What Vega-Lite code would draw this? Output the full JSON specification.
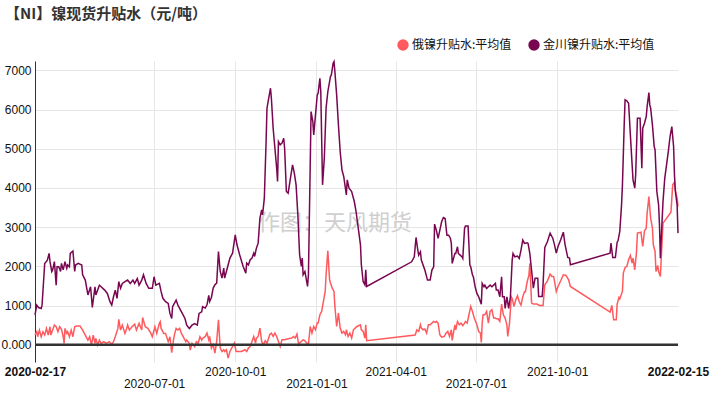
{
  "$schema": "https://vega.github.io/schema/vega-lite/v6.json",
  "width": 643,
  "height": 301,
  "autosize": {"type": "none"},
  "padding": {"left": 35, "top": 61, "right": 38, "bottom": 33},
  "background": "white",
  "config": {"view": {"stroke": null}, "font": "Liberation Sans"},
  "title": {"text": "【NI】镍现货升贴水（元/吨）", "anchor": "start", "frame": "group", "dx": -30, "offset": 2, "baseline": "bottom", "font": "Noto Sans CJK SC", "fontSize": 15, "fontWeight": "bold", "color": "#333333"},
  "datasets": {
    "ru": [
      {"date":"2020-02-17","value":250},{"date":"2020-02-19","value":332},{"date":"2020-02-20","value":205},{"date":"2020-02-22","value":375},{"date":"2020-02-24","value":205},{"date":"2020-02-26","value":332},{"date":"2020-02-28","value":247},{"date":"2020-03-01","value":417},{"date":"2020-03-03","value":247},{"date":"2020-03-05","value":460},{"date":"2020-03-06","value":247},{"date":"2020-03-08","value":375},{"date":"2020-03-10","value":502},{"date":"2020-03-12","value":460},{"date":"2020-03-14","value":332},{"date":"2020-03-16","value":460},{"date":"2020-03-18","value":392},{"date":"2020-03-20","value":205},{"date":"2020-03-21","value":35},{"date":"2020-03-22","value":417},{"date":"2020-03-24","value":290},{"date":"2020-03-25","value":332},{"date":"2020-03-27","value":205},{"date":"2020-03-29","value":375},{"date":"2020-03-31","value":205},{"date":"2020-04-02","value":460},{"date":"2020-04-04","value":477},{"date":"2020-04-08","value":477},{"date":"2020-04-11","value":375},{"date":"2020-04-14","value":247},{"date":"2020-04-17","value":120},{"date":"2020-04-19","value":205},{"date":"2020-04-21","value":-8},{"date":"2020-04-23","value":247},{"date":"2020-04-25","value":35},{"date":"2020-04-26","value":162},{"date":"2020-04-28","value":-8},{"date":"2020-04-30","value":120},{"date":"2020-05-02","value":35},{"date":"2020-05-05","value":77},{"date":"2020-05-08","value":35},{"date":"2020-05-11","value":77},{"date":"2020-05-14","value":17},{"date":"2020-05-16","value":77},{"date":"2020-05-18","value":205},{"date":"2020-05-21","value":417},{"date":"2020-05-22","value":647},{"date":"2020-05-24","value":375},{"date":"2020-05-26","value":502},{"date":"2020-05-29","value":290},{"date":"2020-05-31","value":417},{"date":"2020-06-01","value":502},{"date":"2020-06-03","value":375},{"date":"2020-06-06","value":460},{"date":"2020-06-09","value":527},{"date":"2020-06-11","value":375},{"date":"2020-06-14","value":545},{"date":"2020-06-17","value":375},{"date":"2020-06-18","value":697},{"date":"2020-06-21","value":460},{"date":"2020-06-24","value":417},{"date":"2020-06-27","value":307},{"date":"2020-06-29","value":205},{"date":"2020-07-02","value":460},{"date":"2020-07-04","value":290},{"date":"2020-07-07","value":545},{"date":"2020-07-08","value":587},{"date":"2020-07-09","value":417},{"date":"2020-07-12","value":290},{"date":"2020-07-14","value":290},{"date":"2020-07-17","value":77},{"date":"2020-07-19","value":205},{"date":"2020-07-21","value":-204},{"date":"2020-07-23","value":120},{"date":"2020-07-24","value":247},{"date":"2020-07-26","value":417},{"date":"2020-07-28","value":375},{"date":"2020-07-30","value":417},{"date":"2020-08-01","value":290},{"date":"2020-08-03","value":205},{"date":"2020-08-06","value":77},{"date":"2020-08-07","value":120},{"date":"2020-08-10","value":35},{"date":"2020-08-11","value":-136},{"date":"2020-08-13","value":35},{"date":"2020-08-16","value":-50},{"date":"2020-08-18","value":77},{"date":"2020-08-20","value":35},{"date":"2020-08-22","value":205},{"date":"2020-08-24","value":120},{"date":"2020-08-25","value":162},{"date":"2020-08-28","value":212},{"date":"2020-08-30","value":297},{"date":"2020-09-01","value":127},{"date":"2020-09-02","value":212},{"date":"2020-09-04","value":-85},{"date":"2020-09-06","value":0},{"date":"2020-09-08","value":-212},{"date":"2020-09-10","value":85},{"date":"2020-09-12","value":637},{"date":"2020-09-14","value":-85},{"date":"2020-09-16","value":-170},{"date":"2020-09-18","value":-127},{"date":"2020-09-19","value":-170},{"date":"2020-09-21","value":-127},{"date":"2020-09-23","value":-340},{"date":"2020-09-25","value":-170},{"date":"2020-09-27","value":-85},{"date":"2020-09-29","value":0},{"date":"2020-09-30","value":43},{"date":"2020-10-02","value":-170},{"date":"2020-10-05","value":-170},{"date":"2020-10-08","value":-170},{"date":"2020-10-12","value":-127},{"date":"2020-10-14","value":-170},{"date":"2020-10-16","value":-85},{"date":"2020-10-18","value":-43},{"date":"2020-10-20","value":85},{"date":"2020-10-22","value":212},{"date":"2020-10-24","value":43},{"date":"2020-10-25","value":170},{"date":"2020-10-27","value":212},{"date":"2020-10-29","value":425},{"date":"2020-10-31","value":85},{"date":"2020-11-02","value":0},{"date":"2020-11-04","value":102},{"date":"2020-11-06","value":43},{"date":"2020-11-08","value":170},{"date":"2020-11-09","value":255},{"date":"2020-11-11","value":297},{"date":"2020-11-13","value":212},{"date":"2020-11-15","value":297},{"date":"2020-11-17","value":212},{"date":"2020-11-19","value":85},{"date":"2020-11-21","value":-43},{"date":"2020-11-23","value":127},{"date":"2020-11-26","value":127},{"date":"2020-11-30","value":153},{"date":"2020-12-04","value":170},{"date":"2020-12-06","value":212},{"date":"2020-12-08","value":170},{"date":"2020-12-10","value":272},{"date":"2020-12-12","value":0},{"date":"2020-12-13","value":43},{"date":"2020-12-15","value":85},{"date":"2020-12-17","value":127},{"date":"2020-12-19","value":102},{"date":"2020-12-21","value":43},{"date":"2020-12-23","value":0},{"date":"2020-12-25","value":467},{"date":"2020-12-27","value":297},{"date":"2020-12-29","value":467},{"date":"2020-12-31","value":382},{"date":"2021-01-02","value":552},{"date":"2021-01-03","value":552},{"date":"2021-01-05","value":765},{"date":"2021-01-07","value":850},{"date":"2021-01-09","value":1105},{"date":"2021-01-11","value":1360},{"date":"2021-01-12","value":1785},{"date":"2021-01-14","value":2397},{"date":"2021-01-16","value":1658},{"date":"2021-01-17","value":1573},{"date":"2021-01-19","value":1445},{"date":"2021-01-21","value":1360},{"date":"2021-01-22","value":978},{"date":"2021-01-24","value":467},{"date":"2021-01-26","value":808},{"date":"2021-01-28","value":425},{"date":"2021-01-30","value":297},{"date":"2021-02-01","value":340},{"date":"2021-02-03","value":255},{"date":"2021-02-04","value":382},{"date":"2021-02-06","value":212},{"date":"2021-02-08","value":297},{"date":"2021-02-10","value":170},{"date":"2021-02-12","value":382},{"date":"2021-02-14","value":425},{"date":"2021-02-16","value":467},{"date":"2021-02-20","value":510},{"date":"2021-02-21","value":382},{"date":"2021-02-23","value":340},{"date":"2021-02-25","value":170},{"date":"2021-02-26","value":510},{"date":"2021-02-27","value":102},{"date":"2021-04-23","value":247},{"date":"2021-04-25","value":382},{"date":"2021-04-27","value":340},{"date":"2021-04-29","value":510},{"date":"2021-04-30","value":425},{"date":"2021-05-02","value":382},{"date":"2021-05-04","value":400},{"date":"2021-05-06","value":297},{"date":"2021-05-08","value":510},{"date":"2021-05-10","value":510},{"date":"2021-05-12","value":552},{"date":"2021-05-14","value":595},{"date":"2021-05-16","value":570},{"date":"2021-05-17","value":595},{"date":"2021-05-19","value":552},{"date":"2021-05-21","value":255},{"date":"2021-05-23","value":195},{"date":"2021-05-26","value":212},{"date":"2021-05-28","value":297},{"date":"2021-05-30","value":340},{"date":"2021-06-01","value":212},{"date":"2021-06-03","value":382},{"date":"2021-06-04","value":110},{"date":"2021-06-07","value":510},{"date":"2021-06-08","value":382},{"date":"2021-06-10","value":595},{"date":"2021-06-12","value":510},{"date":"2021-06-14","value":552},{"date":"2021-06-16","value":485},{"date":"2021-06-18","value":552},{"date":"2021-06-19","value":595},{"date":"2021-06-21","value":552},{"date":"2021-06-23","value":765},{"date":"2021-06-25","value":978},{"date":"2021-06-27","value":850},{"date":"2021-06-29","value":680},{"date":"2021-07-02","value":510},{"date":"2021-07-04","value":340},{"date":"2021-07-06","value":297},{"date":"2021-07-07","value":59},{"date":"2021-07-08","value":552},{"date":"2021-07-09","value":765},{"date":"2021-07-11","value":765},{"date":"2021-07-13","value":850},{"date":"2021-07-15","value":552},{"date":"2021-07-17","value":850},{"date":"2021-07-19","value":892},{"date":"2021-07-21","value":680},{"date":"2021-07-23","value":680},{"date":"2021-07-24","value":663},{"date":"2021-07-26","value":663},{"date":"2021-07-28","value":595},{"date":"2021-07-30","value":1037},{"date":"2021-08-01","value":765},{"date":"2021-08-03","value":680},{"date":"2021-08-05","value":510},{"date":"2021-08-06","value":212},{"date":"2021-08-08","value":552},{"date":"2021-08-10","value":1225},{"date":"2021-08-11","value":1182},{"date":"2021-08-13","value":977},{"date":"2021-08-15","value":1140},{"date":"2021-08-17","value":1250},{"date":"2021-08-19","value":1097},{"date":"2021-08-21","value":1012},{"date":"2021-08-23","value":1225},{"date":"2021-08-25","value":1352},{"date":"2021-08-26","value":1352},{"date":"2021-08-28","value":1607},{"date":"2021-08-30","value":1777},{"date":"2021-08-31","value":2075},{"date":"2021-09-02","value":1063},{"date":"2021-09-04","value":1037},{"date":"2021-09-08","value":1037},{"date":"2021-09-11","value":1003},{"date":"2021-09-15","value":1003},{"date":"2021-09-17","value":1530},{"date":"2021-09-20","value":1632},{"date":"2021-09-23","value":1802},{"date":"2021-09-25","value":1743},{"date":"2021-09-27","value":1743},{"date":"2021-09-30","value":1360},{"date":"2021-10-02","value":1488},{"date":"2021-10-05","value":1632},{"date":"2021-10-08","value":1785},{"date":"2021-10-11","value":1768},{"date":"2021-10-14","value":1658},{"date":"2021-10-16","value":1488},{"date":"2021-11-30","value":833},{"date":"2021-12-02","value":1003},{"date":"2021-12-04","value":637},{"date":"2021-12-07","value":637},{"date":"2021-12-08","value":1037},{"date":"2021-12-10","value":1207},{"date":"2021-12-11","value":1173},{"date":"2021-12-14","value":1360},{"date":"2021-12-15","value":1828},{"date":"2021-12-17","value":1972},{"date":"2021-12-19","value":1998},{"date":"2021-12-21","value":2168},{"date":"2021-12-23","value":2278},{"date":"2021-12-25","value":2083},{"date":"2021-12-26","value":2210},{"date":"2021-12-28","value":1913},{"date":"2021-12-30","value":2380},{"date":"2021-12-31","value":2848},{"date":"2022-01-04","value":2873},{"date":"2022-01-06","value":2508},{"date":"2022-01-08","value":2907},{"date":"2022-01-10","value":2975},{"date":"2022-01-11","value":3357},{"date":"2022-01-13","value":3782},{"date":"2022-01-14","value":3485},{"date":"2022-01-15","value":3230},{"date":"2022-01-17","value":2975},{"date":"2022-01-18","value":2550},{"date":"2022-01-20","value":2380},{"date":"2022-01-21","value":1870},{"date":"2022-01-23","value":2023},{"date":"2022-01-24","value":1870},{"date":"2022-01-26","value":1743},{"date":"2022-01-27","value":2210},{"date":"2022-01-29","value":3102},{"date":"2022-02-07","value":3383},{"date":"2022-02-09","value":4080},{"date":"2022-02-11","value":4148},{"date":"2022-02-12","value":3953},{"date":"2022-02-14","value":3740},{"date":"2022-02-15","value":3527}
    ],
    "jc": [
      {"date":"2020-02-17","value":760},{"date":"2020-02-19","value":1010},{"date":"2020-02-21","value":950},{"date":"2020-02-24","value":925},{"date":"2020-02-25","value":1010},{"date":"2020-02-28","value":2075},{"date":"2020-03-02","value":2160},{"date":"2020-03-04","value":2330},{"date":"2020-03-05","value":2120},{"date":"2020-03-07","value":1870},{"date":"2020-03-08","value":1910},{"date":"2020-03-10","value":2120},{"date":"2020-03-12","value":1520},{"date":"2020-03-13","value":1990},{"date":"2020-03-15","value":1990},{"date":"2020-03-17","value":1870},{"date":"2020-03-18","value":2075},{"date":"2020-03-20","value":1910},{"date":"2020-03-22","value":2120},{"date":"2020-03-24","value":1950},{"date":"2020-03-25","value":2035},{"date":"2020-03-27","value":1990},{"date":"2020-03-28","value":2330},{"date":"2020-03-31","value":2390},{"date":"2020-04-02","value":1870},{"date":"2020-04-03","value":2035},{"date":"2020-04-06","value":2075},{"date":"2020-04-10","value":2035},{"date":"2020-04-11","value":1785},{"date":"2020-04-14","value":1650},{"date":"2020-04-17","value":1270},{"date":"2020-04-20","value":1480},{"date":"2020-04-22","value":950},{"date":"2020-04-25","value":1480},{"date":"2020-04-26","value":1270},{"date":"2020-04-30","value":1520},{"date":"2020-05-02","value":1480},{"date":"2020-05-06","value":1395},{"date":"2020-05-09","value":1310},{"date":"2020-05-12","value":1100},{"date":"2020-05-14","value":1012},{"date":"2020-05-16","value":1225},{"date":"2020-05-18","value":1395},{"date":"2020-05-20","value":1185},{"date":"2020-05-22","value":1610},{"date":"2020-05-24","value":1440},{"date":"2020-05-26","value":1565},{"date":"2020-05-29","value":1610},{"date":"2020-06-01","value":1650},{"date":"2020-06-04","value":1565},{"date":"2020-06-07","value":1650},{"date":"2020-06-09","value":1565},{"date":"2020-06-12","value":1690},{"date":"2020-06-14","value":1520},{"date":"2020-06-17","value":1650},{"date":"2020-06-19","value":1785},{"date":"2020-06-22","value":1565},{"date":"2020-06-25","value":1440},{"date":"2020-06-29","value":1440},{"date":"2020-07-01","value":1735},{"date":"2020-07-03","value":1520},{"date":"2020-07-07","value":1565},{"date":"2020-07-09","value":1355},{"date":"2020-07-11","value":1185},{"date":"2020-07-14","value":1100},{"date":"2020-07-17","value":1055},{"date":"2020-07-19","value":800},{"date":"2020-07-21","value":670},{"date":"2020-07-22","value":970},{"date":"2020-07-26","value":1140},{"date":"2020-07-28","value":1012},{"date":"2020-07-31","value":885},{"date":"2020-08-02","value":800},{"date":"2020-08-05","value":670},{"date":"2020-08-07","value":500},{"date":"2020-08-10","value":415},{"date":"2020-08-13","value":500},{"date":"2020-08-16","value":540},{"date":"2020-08-19","value":500},{"date":"2020-08-21","value":800},{"date":"2020-08-24","value":840},{"date":"2020-08-25","value":970},{"date":"2020-08-28","value":935},{"date":"2020-08-30","value":1020},{"date":"2020-09-01","value":1258},{"date":"2020-09-02","value":1105},{"date":"2020-09-04","value":1207},{"date":"2020-09-06","value":1445},{"date":"2020-09-08","value":1530},{"date":"2020-09-10","value":1573},{"date":"2020-09-12","value":2380},{"date":"2020-09-14","value":1870},{"date":"2020-09-16","value":1700},{"date":"2020-09-18","value":1955},{"date":"2020-09-19","value":1700},{"date":"2020-09-21","value":1870},{"date":"2020-09-23","value":2040},{"date":"2020-09-25","value":2210},{"date":"2020-09-28","value":2337},{"date":"2020-10-01","value":2805},{"date":"2020-10-03","value":2550},{"date":"2020-10-06","value":2295},{"date":"2020-10-10","value":1998},{"date":"2020-10-13","value":1828},{"date":"2020-10-14","value":2083},{"date":"2020-10-16","value":2040},{"date":"2020-10-18","value":2168},{"date":"2020-10-20","value":2210},{"date":"2020-10-22","value":2337},{"date":"2020-10-23","value":2253},{"date":"2020-10-25","value":2465},{"date":"2020-10-27","value":2593},{"date":"2020-10-29","value":3230},{"date":"2020-10-31","value":3442},{"date":"2020-11-01","value":3315},{"date":"2020-11-03","value":3740},{"date":"2020-11-05","value":5185},{"date":"2020-11-06","value":6035},{"date":"2020-11-08","value":6290},{"date":"2020-11-10","value":6545},{"date":"2020-11-11","value":6290},{"date":"2020-11-13","value":5525},{"date":"2020-11-15","value":5015},{"date":"2020-11-17","value":4505},{"date":"2020-11-18","value":4165},{"date":"2020-11-19","value":5185},{"date":"2020-11-21","value":5100},{"date":"2020-11-23","value":5143},{"date":"2020-11-25","value":5270},{"date":"2020-11-26","value":5015},{"date":"2020-11-28","value":3910},{"date":"2020-11-30","value":3868},{"date":"2020-12-02","value":4165},{"date":"2020-12-05","value":4590},{"date":"2020-12-07","value":4378},{"date":"2020-12-09","value":4080},{"date":"2020-12-11","value":3315},{"date":"2020-12-13","value":2295},{"date":"2020-12-15","value":1998},{"date":"2020-12-16","value":2210},{"date":"2020-12-17","value":1785},{"date":"2020-12-19","value":1870},{"date":"2020-12-22","value":1488},{"date":"2020-12-23","value":1785},{"date":"2020-12-26","value":5950},{"date":"2020-12-28","value":5695},{"date":"2020-12-29","value":5355},{"date":"2020-12-31","value":5865},{"date":"2021-01-02","value":6375},{"date":"2021-01-03","value":6418},{"date":"2021-01-05","value":6800},{"date":"2021-01-06","value":6460},{"date":"2021-01-08","value":4080},{"date":"2021-01-10","value":4760},{"date":"2021-01-12","value":6035},{"date":"2021-01-14","value":6460},{"date":"2021-01-17","value":6843},{"date":"2021-01-18","value":6885},{"date":"2021-01-20","value":7183},{"date":"2021-01-21","value":7225},{"date":"2021-01-22","value":6970},{"date":"2021-01-24","value":6375},{"date":"2021-01-26","value":5610},{"date":"2021-01-28","value":4930},{"date":"2021-01-30","value":4463},{"date":"2021-02-01","value":4293},{"date":"2021-02-04","value":3825},{"date":"2021-02-05","value":4208},{"date":"2021-02-07","value":3995},{"date":"2021-02-10","value":3910},{"date":"2021-02-13","value":3655},{"date":"2021-02-15","value":3400},{"date":"2021-02-17","value":3060},{"date":"2021-02-20","value":2550},{"date":"2021-02-21","value":2040},{"date":"2021-02-23","value":1615},{"date":"2021-02-25","value":1530},{"date":"2021-02-26","value":1913},{"date":"2021-02-27","value":1488},{"date":"2021-04-19","value":2117},{"date":"2021-04-22","value":2245},{"date":"2021-04-24","value":2738},{"date":"2021-04-26","value":2415},{"date":"2021-04-27","value":2287},{"date":"2021-04-29","value":2372},{"date":"2021-04-30","value":2160},{"date":"2021-05-04","value":1905},{"date":"2021-05-07","value":1650},{"date":"2021-05-10","value":1650},{"date":"2021-05-12","value":1905},{"date":"2021-05-14","value":1990},{"date":"2021-05-15","value":3078},{"date":"2021-05-17","value":2925},{"date":"2021-05-19","value":2712},{"date":"2021-05-21","value":2925},{"date":"2021-05-23","value":3137},{"date":"2021-05-25","value":3248},{"date":"2021-05-27","value":3222},{"date":"2021-05-29","value":2797},{"date":"2021-05-31","value":2797},{"date":"2021-06-02","value":2712},{"date":"2021-06-03","value":2585},{"date":"2021-06-04","value":2075},{"date":"2021-06-07","value":2330},{"date":"2021-06-08","value":2330},{"date":"2021-06-10","value":2500},{"date":"2021-06-11","value":2330},{"date":"2021-06-13","value":2287},{"date":"2021-06-15","value":2245},{"date":"2021-06-16","value":2202},{"date":"2021-06-18","value":2967},{"date":"2021-06-19","value":3027},{"date":"2021-06-22","value":3027},{"date":"2021-06-24","value":2032},{"date":"2021-06-25","value":1990},{"date":"2021-06-27","value":1777},{"date":"2021-06-28","value":1735},{"date":"2021-06-30","value":1480},{"date":"2021-07-02","value":1310},{"date":"2021-07-04","value":1225},{"date":"2021-07-06","value":1097},{"date":"2021-07-07","value":1037},{"date":"2021-07-08","value":1565},{"date":"2021-07-10","value":1480},{"date":"2021-07-11","value":1522},{"date":"2021-07-13","value":1437},{"date":"2021-07-15","value":1480},{"date":"2021-07-17","value":1522},{"date":"2021-07-19","value":1480},{"date":"2021-07-21","value":1522},{"date":"2021-07-23","value":1565},{"date":"2021-07-24","value":1395},{"date":"2021-07-26","value":1395},{"date":"2021-07-28","value":1225},{"date":"2021-07-30","value":1735},{"date":"2021-07-31","value":1225},{"date":"2021-08-02","value":1225},{"date":"2021-08-03","value":927},{"date":"2021-08-05","value":1225},{"date":"2021-08-07","value":927},{"date":"2021-08-09","value":1225},{"date":"2021-08-11","value":2160},{"date":"2021-08-12","value":2330},{"date":"2021-08-14","value":2245},{"date":"2021-08-17","value":2262},{"date":"2021-08-19","value":2202},{"date":"2021-08-21","value":2415},{"date":"2021-08-23","value":2670},{"date":"2021-08-25","value":2585},{"date":"2021-08-28","value":2602},{"date":"2021-08-29","value":2585},{"date":"2021-08-31","value":2330},{"date":"2021-09-02","value":1900},{"date":"2021-09-04","value":1445},{"date":"2021-09-05","value":1573},{"date":"2021-09-06","value":1700},{"date":"2021-09-09","value":1700},{"date":"2021-09-10","value":1233},{"date":"2021-09-14","value":1233},{"date":"2021-09-15","value":1530},{"date":"2021-09-17","value":2482},{"date":"2021-09-20","value":2635},{"date":"2021-09-23","value":2848},{"date":"2021-09-26","value":2720},{"date":"2021-09-28","value":2550},{"date":"2021-09-30","value":2337},{"date":"2021-10-02","value":2508},{"date":"2021-10-05","value":2678},{"date":"2021-10-08","value":2873},{"date":"2021-10-10","value":2550},{"date":"2021-10-13","value":2227},{"date":"2021-10-15","value":2210},{"date":"2021-10-16","value":2040},{"date":"2021-11-30","value":2337},{"date":"2021-12-01","value":2593},{"date":"2021-12-03","value":2227},{"date":"2021-12-06","value":2227},{"date":"2021-12-08","value":2618},{"date":"2021-12-09","value":2652},{"date":"2021-12-11","value":2890},{"date":"2021-12-13","value":3570},{"date":"2021-12-14","value":4080},{"date":"2021-12-16","value":5610},{"date":"2021-12-17","value":6248},{"date":"2021-12-19","value":6222},{"date":"2021-12-21","value":6163},{"date":"2021-12-23","value":5355},{"date":"2021-12-25","value":4590},{"date":"2021-12-26","value":4208},{"date":"2021-12-28","value":3995},{"date":"2021-12-29","value":4335},{"date":"2021-12-31","value":5780},{"date":"2022-01-03","value":5780},{"date":"2022-01-05","value":4505},{"date":"2022-01-06","value":5525},{"date":"2022-01-08","value":5653},{"date":"2022-01-10","value":5823},{"date":"2022-01-11","value":6078},{"date":"2022-01-13","value":6435},{"date":"2022-01-14","value":6120},{"date":"2022-01-15","value":6035},{"date":"2022-01-17","value":5610},{"date":"2022-01-19","value":5058},{"date":"2022-01-20","value":4973},{"date":"2022-01-22","value":3910},{"date":"2022-01-24","value":3570},{"date":"2022-01-25","value":3060},{"date":"2022-01-26","value":2210},{"date":"2022-01-27","value":2720},{"date":"2022-01-29","value":3655},{"date":"2022-01-31","value":4250},{"date":"2022-02-02","value":4590},{"date":"2022-02-04","value":4930},{"date":"2022-02-06","value":5313},{"date":"2022-02-08","value":5568},{"date":"2022-02-10","value":5058},{"date":"2022-02-11","value":4335},{"date":"2022-02-12","value":3910},{"date":"2022-02-14","value":3570},{"date":"2022-02-15","value":2848}
    ]
  },
  "layer": [
    {
      "data": {"values": [{}]},
      "mark": {"type": "text", "font": "Noto Sans CJK SC", "fontSize": 22, "color": "#cfcfcf", "text": "作图：天风期货"},
      "encoding": {
        "x": {"datum": {"year": 2021, "month": 1, "date": 22, "utc": true}, "type": "temporal"},
        "y": {"datum": 3100, "type": "quantitative"}
      }
    },
    {
      "data": {"name": "ru"},
      "mark": {"type": "line", "strokeWidth": 1.5},
      "encoding": {
        "x": {
          "field": "date", "type": "temporal",
          "scale": {"type": "utc", "domain": [{"year": 2020, "month": 2, "date": 17, "utc": true}, {"year": 2022, "month": 2, "date": 15, "utc": true}], "nice": false},
          "axis": {
            "title": null,
            "values": [
              {"year": 2020, "month": 2, "date": 17, "utc": true},
              {"year": 2020, "month": 7, "date": 1, "utc": true},
              {"year": 2020, "month": 10, "date": 1, "utc": true},
              {"year": 2021, "month": 1, "date": 1, "utc": true},
              {"year": 2021, "month": 4, "date": 1, "utc": true},
              {"year": 2021, "month": 7, "date": 1, "utc": true},
              {"year": 2021, "month": 10, "date": 1, "utc": true},
              {"year": 2022, "month": 2, "date": 15, "utc": true}
            ],
            "labelExpr": "utcFormat(datum.value, '%Y-%m-%d')",
            "domain": false, "ticks": false, "grid": true, "gridColor": "#e6e6e6",
            "gridOpacity": {"condition": {"test": "utcdate(datum.value) == 15", "value": 0}, "value": 1},
            "labelOverlap": false, "labelFlush": false, "labelBound": false,
            "labelFont": "Liberation Sans", "labelFontSize": 12, "labelColor": "#111111",
            "labelFontWeight": {"condition": {"test": "utcdate(datum.value) == 17 || utcdate(datum.value) == 15", "value": "bold"}, "value": "normal"},
            "labelPadding": {"condition": {"test": "utcmonth(datum.value) == 6 || (utcmonth(datum.value) == 0 && utcdate(datum.value) == 1)", "value": 16}, "value": 4}
          }
        },
        "y": {
          "field": "value", "type": "quantitative",
          "scale": {"domain": [-440, 7240], "nice": false, "zero": false},
          "axis": {
            "title": null, "values": [0, 1000, 2000, 3000, 4000, 5000, 6000, 7000],
            "labelExpr": "datum.value == 0 ? '0.000' : format(datum.value, 'd')",
            "grid": true, "gridColor": "#e6e6e6", "domainColor": "#333333", "ticks": false,
            "labelPadding": 4, "labelFont": "Liberation Sans", "labelFontSize": 12, "labelColor": "#111111"
          }
        },
        "color": {
          "datum": "俄镍升贴水:平均值",
          "scale": {"domain": ["俄镍升贴水:平均值", "金川镍升贴水:平均值"], "range": ["#ff5a5e", "#790650"]},
          "legend": {
            "title": null, "orient": "none", "legendX": 362, "legendY": -22, "direction": "horizontal",
            "padding": 0, "symbolType": "circle", "symbolSize": 130, "symbolStrokeWidth": 0,
            "labelFont": "Noto Sans CJK SC", "labelFontSize": 12, "labelColor": "#111111", "labelOffset": 3, "columnPadding": 16,
            "encode": {"symbols": {"update": {"fill": {"scale": "color", "field": "value"}, "fillOpacity": {"value": 1}}}}
          }
        }
      }
    },
    {
      "data": {"name": "jc"},
      "mark": {"type": "line", "strokeWidth": 1.5},
      "encoding": {
        "x": {"field": "date", "type": "temporal"},
        "y": {"field": "value", "type": "quantitative"},
        "color": {"datum": "金川镍升贴水:平均值"}
      }
    },
    {
      "data": {"values": [{}]},
      "mark": {"type": "rule", "color": "#333333", "strokeWidth": 2.5},
      "encoding": {"y": {"datum": 0, "type": "quantitative"}}
    }
  ]
}
